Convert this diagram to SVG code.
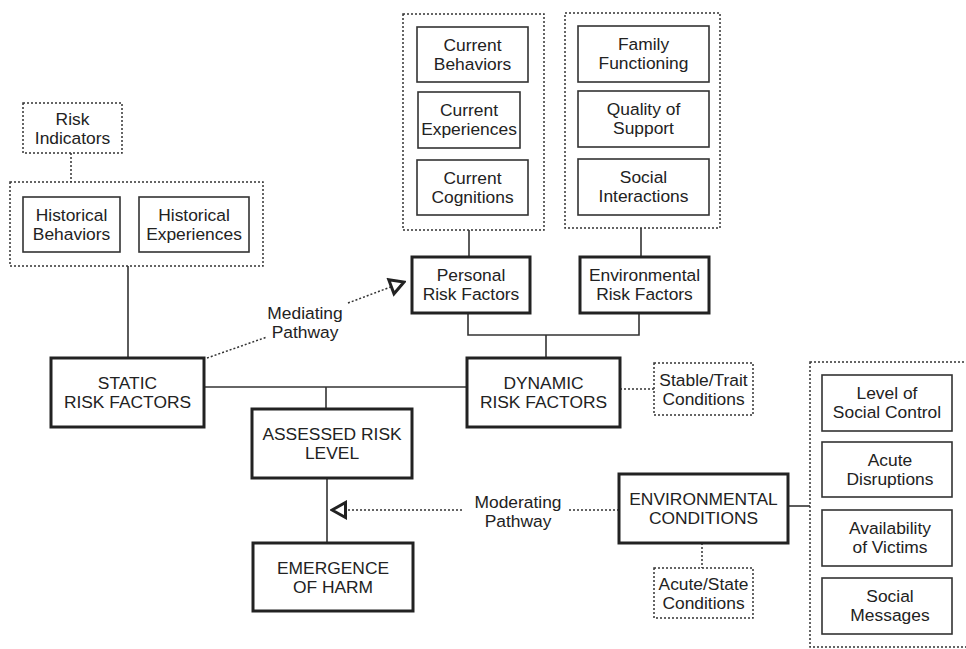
<svg xmlns="http://www.w3.org/2000/svg" width="966" height="649" viewBox="0 0 966 649">
  <style>
    text { font-family: "Liberation Sans", Arial, sans-serif; font-size: 17.4px; fill: #222; text-anchor: middle; }
    .box { fill: #fff; stroke: #333; stroke-width: 1.6; }
    .main { fill: #fff; stroke: #222; stroke-width: 3; }
    .group { fill: none; stroke: #333; stroke-width: 1.5; stroke-dasharray: 2 2; }
    .note { fill: #fff; stroke: #333; stroke-width: 1.5; stroke-dasharray: 2 2; }
    .link { fill: none; stroke: #333; stroke-width: 1.6; }
    .dot { fill: none; stroke: #333; stroke-width: 1.5; stroke-dasharray: 2 2; }
  </style>
  <defs>
    <marker id="open-tri" viewBox="0 0 18 20" refX="16" refY="10" markerWidth="18" markerHeight="20" markerUnits="userSpaceOnUse" orient="auto">
      <path d="M2.5,2.5 L16,10 L2.5,17.5 Z" fill="#fff" stroke="#222" stroke-width="3" stroke-linejoin="miter"/>
    </marker>
  </defs>
  <rect width="966" height="649" fill="#fff"/>

  <!-- connectors -->
  <g id="connectors">
    <line class="dot" x1="71" y1="153" x2="71" y2="182"/>
    <line class="link" x1="128" y1="266" x2="128" y2="358"/>
    <line class="link" x1="204" y1="387" x2="467" y2="387"/>
    <line class="link" x1="326" y1="387" x2="326" y2="409"/>
    <line class="link" x1="327" y1="478" x2="327" y2="543"/>
    <line class="link" x1="469" y1="230" x2="469" y2="257"/>
    <line class="link" x1="641" y1="228" x2="641" y2="257"/>
    <path class="link" d="M468,313 V335 H639 V313"/>
    <line class="link" x1="546" y1="335" x2="546" y2="358"/>
    <line class="dot" x1="620" y1="389" x2="654" y2="389"/>
    <line class="link" x1="788" y1="506" x2="810" y2="506"/>
    <line class="dot" x1="702" y1="543" x2="702" y2="568"/>
    <!-- moderating pathway -->
    <line class="dot" x1="619" y1="510" x2="568" y2="510"/>
    <line class="dot" x1="462" y1="510" x2="332" y2="510" marker-end="url(#open-tri)"/>
    <text x="518" y="508">Moderating</text>
    <text x="518" y="527">Pathway</text>
    <!-- mediating pathway -->
    <line class="dot" x1="207" y1="358" x2="267" y2="337"/>
    <line class="dot" x1="348" y1="303" x2="404" y2="282" marker-end="url(#open-tri)"/>
    <text x="305" y="319">Mediating</text>
    <text x="305" y="338">Pathway</text>
  </g>

  <!-- static side -->
  <g id="risk-indicators">
    <rect class="note" x="23" y="103" width="99" height="50"/>
    <text x="72.5" y="125">Risk</text>
    <text x="72.5" y="144">Indicators</text>
  </g>
  <g id="historical-group">
    <rect class="group" x="10" y="182" width="253" height="84"/>
  </g>
  <g id="historical-behaviors">
    <rect class="box" x="23" y="197" width="97" height="55"/>
    <text x="71.5" y="221">Historical</text>
    <text x="71.5" y="240">Behaviors</text>
  </g>
  <g id="historical-experiences">
    <rect class="box" x="139" y="197" width="110" height="55"/>
    <text x="194" y="221">Historical</text>
    <text x="194" y="240">Experiences</text>
  </g>
  <g id="static-risk-factors">
    <rect class="main" x="51" y="358" width="153" height="69"/>
    <text x="127.5" y="389">STATIC</text>
    <text x="127.5" y="408">RISK FACTORS</text>
  </g>

  <!-- personal factors -->
  <g id="personal-group">
    <rect class="group" x="403" y="14" width="141" height="216"/>
  </g>
  <g id="current-behaviors">
    <rect class="box" x="417" y="27" width="111" height="55"/>
    <text x="472.5" y="51">Current</text>
    <text x="472.5" y="70">Behaviors</text>
  </g>
  <g id="current-experiences">
    <rect class="box" x="418" y="92" width="102" height="56"/>
    <text x="469" y="116">Current</text>
    <text x="469" y="135">Experiences</text>
  </g>
  <g id="current-cognitions">
    <rect class="box" x="417" y="160" width="111" height="55"/>
    <text x="472.5" y="184">Current</text>
    <text x="472.5" y="203">Cognitions</text>
  </g>
  <g id="personal-risk-factors">
    <rect class="main" x="412" y="257" width="118" height="56"/>
    <text x="471" y="281">Personal</text>
    <text x="471" y="300">Risk Factors</text>
  </g>

  <!-- environmental factors -->
  <g id="environmental-group">
    <rect class="group" x="565" y="13" width="155" height="215"/>
  </g>
  <g id="family-functioning">
    <rect class="box" x="578" y="26" width="131" height="56"/>
    <text x="643.5" y="50">Family</text>
    <text x="643.5" y="69">Functioning</text>
  </g>
  <g id="quality-of-support">
    <rect class="box" x="578" y="91" width="131" height="56"/>
    <text x="643.5" y="115">Quality of</text>
    <text x="643.5" y="134">Support</text>
  </g>
  <g id="social-interactions">
    <rect class="box" x="578" y="159" width="131" height="56"/>
    <text x="643.5" y="183">Social</text>
    <text x="643.5" y="202">Interactions</text>
  </g>
  <g id="environmental-risk-factors">
    <rect class="main" x="580" y="257" width="129" height="56"/>
    <text x="644.5" y="281">Environmental</text>
    <text x="644.5" y="300">Risk Factors</text>
  </g>

  <!-- dynamic and outcomes -->
  <g id="dynamic-risk-factors">
    <rect class="main" x="467" y="358" width="153" height="69"/>
    <text x="543.5" y="389">DYNAMIC</text>
    <text x="543.5" y="408">RISK FACTORS</text>
  </g>
  <g id="stable-trait-conditions">
    <rect class="note" x="654" y="363" width="99" height="52"/>
    <text x="703.5" y="386">Stable/Trait</text>
    <text x="703.5" y="405">Conditions</text>
  </g>
  <g id="assessed-risk-level">
    <rect class="main" x="252" y="409" width="160" height="69"/>
    <text x="332" y="440">ASSESSED RISK</text>
    <text x="332" y="459">LEVEL</text>
  </g>
  <g id="emergence-of-harm">
    <rect class="main" x="253" y="543" width="160" height="68"/>
    <text x="333" y="574">EMERGENCE</text>
    <text x="333" y="593">OF HARM</text>
  </g>
  <g id="environmental-conditions">
    <rect class="main" x="619" y="474" width="169" height="69"/>
    <text x="703.5" y="505">ENVIRONMENTAL</text>
    <text x="703.5" y="524">CONDITIONS</text>
  </g>
  <g id="acute-state-conditions">
    <rect class="note" x="654" y="568" width="99" height="50"/>
    <text x="703.5" y="590">Acute/State</text>
    <text x="703.5" y="609">Conditions</text>
  </g>

  <!-- environmental conditions detail -->
  <g id="conditions-group">
    <rect class="group" x="810" y="362" width="160" height="285"/>
  </g>
  <g id="level-of-social-control">
    <rect class="box" x="822" y="375" width="130" height="56"/>
    <text x="887" y="399">Level of</text>
    <text x="887" y="418">Social Control</text>
  </g>
  <g id="acute-disruptions">
    <rect class="box" x="822" y="442" width="130" height="55"/>
    <text x="890" y="466">Acute</text>
    <text x="890" y="485">Disruptions</text>
  </g>
  <g id="availability-of-victims">
    <rect class="box" x="822" y="510" width="130" height="56"/>
    <text x="890" y="534">Availability</text>
    <text x="890" y="553">of Victims</text>
  </g>
  <g id="social-messages">
    <rect class="box" x="822" y="578" width="130" height="56"/>
    <text x="890" y="602">Social</text>
    <text x="890" y="621">Messages</text>
  </g>
</svg>
